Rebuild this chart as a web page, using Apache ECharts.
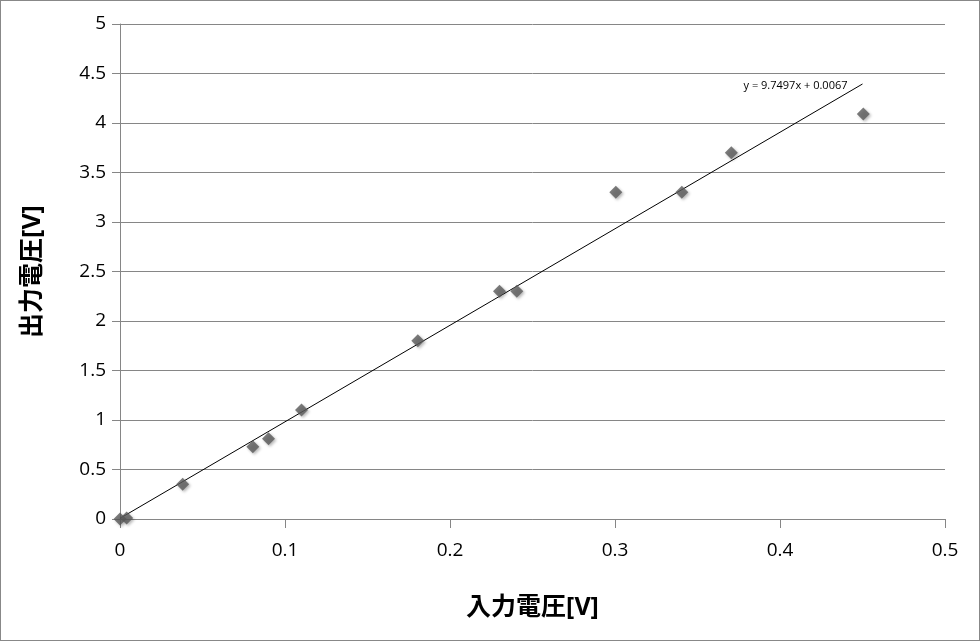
<!DOCTYPE html>
<html><head><meta charset="utf-8">
<script src="https://cdn.jsdelivr.net/npm/echarts@6/dist/echarts.min.js"></script>
<style>html,body{margin:0;padding:0;background:#fff}#c{width:980px;height:641px;box-sizing:border-box;border:1px solid #888}</style>
</head><body><div id="c"></div>
<script>
const inputV = [0, 0.004, 0.038, 0.0805, 0.09, 0.11, 0.1805, 0.23, 0.2405, 0.3005, 0.3405, 0.3705, 0.4505];
const outputV = [0, 0.01, 0.35, 0.73, 0.81, 1.1, 1.8, 2.3, 2.3, 3.3, 3.3, 3.7, 4.09];
const slope = 9.7497, intercept = 0.0067;
const trendX = [0, 0.45];
const equationText = 'y = 9.7497x + 0.0067';
const xTitle = '入力電圧[V]', yTitle = '出力電圧[V]';

const pts = inputV.map((x, i) => [x, outputV[i]]);
const trend = trendX.map(x => [x, slope * x + intercept]);
const font = '"Open Sans", "Noto Sans CJK JP", sans-serif';
const chart = echarts.init(document.getElementById('c'));
chart.setOption({
  animation: false,
  grid: {left: 119, right: 34, top: 23, bottom: 121, containLabel: false},
  xAxis: {
    type: 'value', min: 0, max: 0.5, interval: 0.1,
    name: xTitle, nameLocation: 'middle', nameGap: 76,
    nameTextStyle: {fontSize: 25, fontWeight: 'bold', color: '#000', fontFamily: font},
    axisLine: {show: true, onZero: false, lineStyle: {color: '#868686'}},
    axisTick: {show: true, inside: false, length: 9, lineStyle: {color: '#868686'}},
    axisLabel: {fontSize: 19, color: '#000', margin: 22, fontFamily: font},
    splitLine: {show: false}
  },
  yAxis: {
    type: 'value', min: 0, max: 5, interval: 0.5,
    name: yTitle, nameLocation: 'middle', nameGap: 75, nameRotate: 90,
    nameTextStyle: {fontSize: 25, fontWeight: 'bold', color: '#000', fontFamily: font},
    axisLine: {show: true, onZero: false, lineStyle: {color: '#868686'}},
    axisTick: {show: true, length: 8, lineStyle: {color: '#868686'}},
    axisLabel: {fontSize: 19, color: '#000', margin: 14, fontFamily: font},
    splitLine: {show: true, lineStyle: {color: '#868686', width: 1}}
  },
  series: [
    {
      type: 'line', data: trend, symbol: 'none', silent: true,
      lineStyle: {color: '#000', width: 1}, z: 3,
      markPoint: {
        symbol: 'rect', symbolSize: 0,
        data: [{coord: trend[1], value: equationText}],
        label: {show: true, formatter: equationText, position: 'left', offset: [-10, 2], fontSize: 11, color: '#000', fontFamily: font}
      }
    },
    {
      type: 'scatter', data: pts, symbol: 'diamond', symbolSize: 13, z: 4,
      itemStyle: {color: '#5a5a5a', shadowColor: 'rgba(0,0,0,0.35)', shadowBlur: 3, shadowOffsetX: 1.5, shadowOffsetY: 1.5}
    }
  ]
});
</script></body></html>
